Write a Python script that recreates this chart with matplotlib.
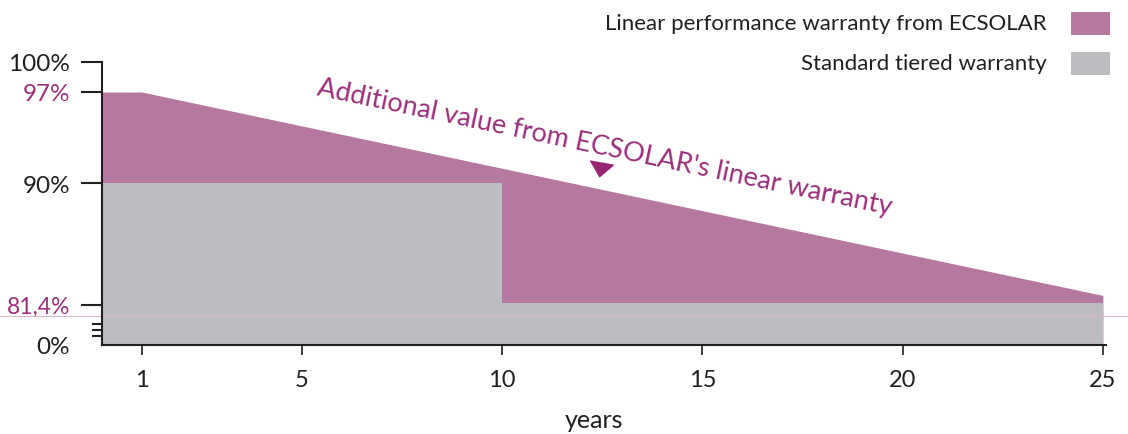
import matplotlib
matplotlib.use("Agg")
import matplotlib.pyplot as plt
from matplotlib.patches import Rectangle
from matplotlib.markers import MarkerStyle
from matplotlib.transforms import Affine2D, blended_transform_factory
import numpy as np

# ---------------- data ----------------
linear_years = [0, 1, 25]
linear_values = [97, 97, 81.4]
tier_years = [0, 10, 10, 25]
tier_values = [90, 90, 80.8, 80.8]
x_ticks = [1, 5, 10, 15, 20, 25]
y_ticks = [99.32, 97, 90, 80.7, 77.6]
y_tick_labels = ["100%", "97%", "90%", "81,4%", "0%"]
break_marks = [79.2, 78.75, 78.3]
ref_line_value = 79.8
arrow_pos = (12.45, 91.1)
series_labels = ["Linear performance warranty from ECSOLAR", "Standard tiered warranty"]
annotation = "Additional value from ECSOLAR's linear warranty"

# ---------------- style ----------------
PURPLE = "#b5799f"
GREY = "#bcbdc1"
MAGENTA = "#9b2f79"
DARK = "#231f20"
FONT = ["Lato", "DejaVu Sans"]
plt.rcParams["font.family"] = FONT

W, H = 1128, 435
fig = plt.figure(figsize=(W / 100, H / 100), dpi=100)
ax = fig.add_axes([101.5 / W, 89 / H, (1105.7 - 101.5) / W, (346 - 62.7) / H])

ymin, ymax = 77.6, 99.32
ax.set_xlim(0, 25.07)
ax.set_ylim(ymin, ymax)

ax.fill_between(linear_years, linear_values, ymin, color=PURPLE, lw=0, zorder=1)
ax.fill_between(tier_years, tier_values, ymin, color=GREY, lw=0, zorder=2)

# thin reference line across whole figure
tr = blended_transform_factory(fig.transFigure, ax.transData)
ax.plot([0, 1], [ref_line_value, ref_line_value], transform=tr, color="#d9b9ca",
        lw=0.8, clip_on=False, zorder=3)

# spines
for s in ["top", "right"]:
    ax.spines[s].set_visible(False)
for s in ["left", "bottom"]:
    ax.spines[s].set_linewidth(1.5)
    ax.spines[s].set_color(DARK)
    ax.spines[s].set_zorder(5)

# x ticks
ax.set_xticks(x_ticks)
ax.set_xticklabels([str(v) for v in x_ticks])
ax.tick_params(axis="x", length=7.5, width=1.2, color=DARK, pad=9.5,
               labelsize=17, labelcolor=DARK)

# y ticks
ax.set_yticks(y_ticks)
ax.set_yticklabels(y_tick_labels)
ax.tick_params(axis="y", length=15, width=1.5, color=DARK, pad=7.5,
               labelsize=17.5, labelcolor=DARK)
for lbl, txt in zip(ax.get_yticklabels(), y_tick_labels):
    if txt in ("97%", "81,4%"):
        lbl.set_color(MAGENTA)
    if txt == "81,4%":
        lbl.set_fontsize(16.5)
ax.yaxis.get_major_ticks()[-1].tick1line.set_visible(False)

# axis break marks
ax.set_yticks(break_marks, minor=True)
ax.tick_params(axis="y", which="minor", length=7.5, width=1.5, color=DARK)

ax.set_xlabel("years", fontsize=18, color=DARK)
ax.xaxis.set_label_coords((594 - 101.5) / (1105.7 - 101.5), -(421 - 346) / (346 - 62.7))
ax.xaxis.label.set_va("center")

# annotation text + arrow
ax.text(12.57, 92.8, annotation, rotation=-11.8, rotation_mode="anchor",
        ha="center", va="center", fontsize=19.5, color=MAGENTA, zorder=6)
tri = MarkerStyle([(-1, 0.55), (1, 0.55), (0, -0.65)],
                  transform=Affine2D().rotate_deg(-10))
ax.plot([arrow_pos[0]], [arrow_pos[1]], marker=tri, markersize=17,
        color="#962574", lw=0, zorder=6)

# legend (manual)
text_right = 1047 / W
patch_x = 1071 / W
patch_w = (1110 - 1071) / W
patch_h = 23.5 / H
for i, (lab, col) in enumerate(zip(series_labels, [PURPLE, GREY])):
    yc = [24.5, 64.5][i]
    fig.text(text_right, 1 - yc / H, lab, ha="right", va="center",
             fontsize=16, color=DARK)
    fig.add_artist(Rectangle((patch_x, 1 - yc / H - patch_h / 2), patch_w, patch_h,
                             transform=fig.transFigure, color=col, lw=0))

fig.savefig("out.png", dpi=100)
